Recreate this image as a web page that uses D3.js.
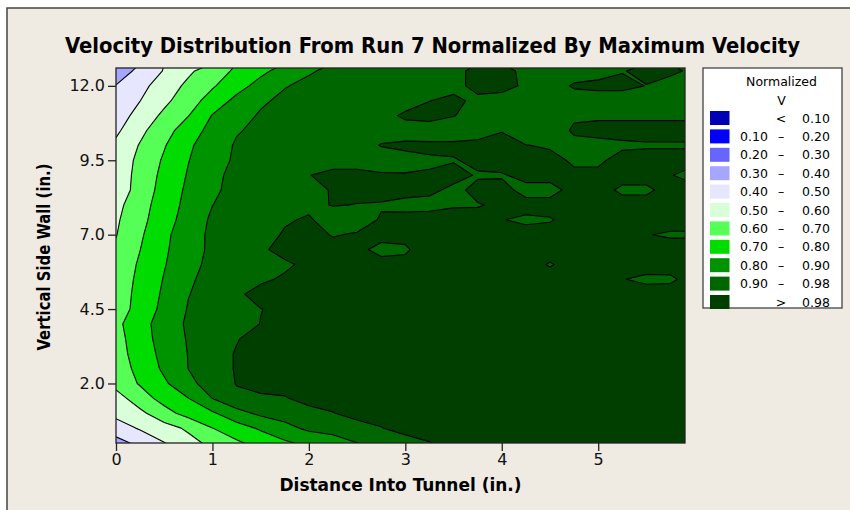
<!DOCTYPE html>
<html><head><meta charset="utf-8">
<script src="https://cdn.jsdelivr.net/npm/d3@7"></script>
<style>body{margin:0;background:#fff}svg{display:block}</style>
</head><body>
<svg id="chart" width="850" height="510"></svg>
<script>
const title = "Velocity Distribution From Run 7 Normalized By Maximum Velocity";
const xLabel = "Distance Into Tunnel (in.)";
const yLabel = "Vertical Side Wall (in.)";
const xTicks = [0, 1, 2, 3, 4, 5];
const yTicks = [2.0, 4.5, 7.0, 9.5, 12.0];

// grid sample positions (inches)
const xSamples = [0, 0.25, 0.5, 0.75, 1, 1.25, 1.5, 1.75, 2, 2.25, 2.5, 2.75, 3, 3.25, 3.5, 3.75, 4, 4.25, 4.5, 4.75, 5, 5.25, 5.5, 5.75, 6];
const ySamples = [12.5, 12, 11.5, 11, 10.5, 10, 9.5, 9, 8.5, 8, 7.5, 7, 6.5, 6, 5.5, 5, 4.5, 4, 3.5, 3, 2.5, 2, 1.5, 1, 0.5, 0];

// normalized velocity, one row per ySample (top to bottom), one column per xSample
const velocity = [
 [0.345,0.426,0.506,0.582,0.651,0.717,0.778,0.836,0.891,0.92,0.935,0.945,0.95,0.95,0.96,1.0,1.0,0.965,0.955,0.96,0.965,0.978,0.99,0.99,0.97],
 [0.404,0.471,0.547,0.622,0.689,0.764,0.833,0.895,0.92,0.935,0.945,0.95,0.95,0.955,0.96,1.0,1.0,0.97,0.96,0.985,0.99,0.99,0.979,0.96,0.955],
 [0.42,0.499,0.578,0.655,0.742,0.826,0.886,0.92,0.935,0.945,0.95,0.95,0.955,0.979,0.995,0.965,0.955,0.955,0.96,0.96,0.96,0.96,0.96,0.96,0.96],
 [0.449,0.537,0.621,0.697,0.805,0.863,0.91,0.93,0.94,0.95,0.95,0.96,0.99,1.0,0.982,0.96,0.955,0.955,0.96,0.975,0.975,0.975,0.975,0.975,0.975],
 [0.481,0.577,0.661,0.752,0.832,0.893,0.92,0.935,0.945,0.95,0.95,0.96,0.955,0.95,0.95,0.955,0.978,0.96,0.96,0.985,0.99,0.99,0.99,0.99,0.99],
 [0.521,0.607,0.693,0.785,0.851,0.91,0.93,0.94,0.945,0.95,0.955,0.983,0.99,0.99,0.99,0.995,0.995,0.981,0.976,0.97,0.97,0.975,0.977,0.977,0.977],
 [0.536,0.625,0.713,0.797,0.86,0.915,0.93,0.94,0.945,0.95,0.95,0.948,0.963,0.974,0.977,0.99,0.995,0.99,0.99,0.975,0.975,0.99,0.99,0.99,0.99],
 [0.538,0.635,0.727,0.808,0.874,0.93,0.945,0.96,0.978,1.0,1.0,0.987,0.983,0.984,0.995,0.976,0.977,0.99,0.99,0.986,0.986,0.99,0.99,0.982,0.965],
 [0.538,0.642,0.738,0.819,0.886,0.925,0.94,0.95,0.96,0.985,0.99,0.99,0.99,0.99,0.97,0.99,0.99,0.97,0.97,0.99,0.99,0.975,0.975,0.99,0.99],
 [0.571,0.661,0.748,0.829,0.899,0.93,0.945,0.95,0.97,0.982,0.979,0.9775,0.971,0.965,0.975,0.978,0.985,0.99,0.99,0.99,0.99,0.99,0.99,0.99,0.99],
 [0.586,0.672,0.759,0.842,0.915,0.94,0.95,0.975,0.985,0.96,0.965,0.983,0.99,1.0,1.0,0.99,0.981,0.975,0.978,0.99,0.99,0.99,0.99,0.99,0.99],
 [0.596,0.686,0.778,0.856,0.92,0.94,0.96,0.985,0.99,0.978,0.983,0.99,0.99,0.99,0.99,0.99,0.99,0.99,0.99,0.99,0.99,0.99,0.981,0.977,0.977],
 [0.614,0.699,0.786,0.858,0.92,0.945,0.97,1.0,0.99,0.99,0.988,0.971,0.975,1.0,0.99,0.99,0.99,0.99,0.99,0.99,0.99,0.99,0.99,0.99,0.99],
 [0.632,0.713,0.794,0.87,0.925,0.945,0.955,0.97,0.994,0.99,0.99,0.99,0.99,0.99,0.99,0.99,0.99,0.99,0.978,0.99,0.99,0.99,0.99,0.99,0.99],
 [0.64,0.723,0.806,0.887,0.93,0.95,0.97,0.988,0.99,0.99,0.99,0.99,0.99,0.99,0.99,0.99,0.99,0.99,0.99,0.99,0.99,0.981,0.975,0.976,0.99],
 [0.645,0.731,0.816,0.897,0.935,0.97,1.0,0.99,0.99,0.99,0.99,0.99,0.99,0.99,0.99,0.99,0.99,0.99,0.99,0.99,0.99,0.99,0.99,0.99,0.99],
 [0.646,0.739,0.827,0.906,0.94,0.96,0.979,0.99,0.99,0.99,0.99,0.99,0.99,0.99,0.99,0.99,0.99,0.99,0.99,0.99,0.99,0.99,0.99,0.99,0.99],
 [0.675,0.764,0.844,0.915,0.945,0.96,0.981,0.99,0.99,0.99,0.99,0.99,0.99,0.99,0.99,0.99,0.99,0.99,0.99,0.99,0.99,0.99,0.99,0.99,0.99],
 [0.662,0.758,0.839,0.908,0.945,0.977,0.999,0.99,0.99,0.99,0.99,0.99,0.99,0.99,0.99,0.99,0.99,0.99,0.99,0.99,0.99,0.99,0.99,0.99,0.99],
 [0.657,0.746,0.829,0.903,0.955,0.984,0.99,0.99,0.99,0.99,0.99,0.99,0.99,0.99,0.99,0.99,0.99,0.99,0.99,0.99,0.99,0.99,0.99,0.99,0.99],
 [0.645,0.731,0.817,0.901,0.955,0.984,0.99,0.99,0.99,0.99,0.99,0.99,0.99,0.99,0.99,0.99,0.99,0.99,0.99,0.99,0.99,0.99,0.99,0.99,0.99],
 [0.633,0.709,0.785,0.871,0.95,0.982,0.99,0.99,0.99,0.99,0.99,0.99,0.99,0.99,0.99,0.99,0.99,0.99,0.99,0.99,0.99,0.99,0.99,0.99,0.99],
 [0.556,0.656,0.735,0.798,0.901,0.97,0.975,0.978,0.99,0.99,0.99,0.99,0.99,0.99,0.99,0.99,0.99,0.99,0.99,0.99,0.99,0.99,0.99,0.99,0.99],
 [0.525,0.576,0.665,0.736,0.786,0.867,0.92,0.94,0.97,0.979,0.99,0.99,0.99,0.99,0.99,0.99,0.99,0.99,0.99,0.99,0.99,0.99,0.99,0.99,0.99],
 [0.456,0.51,0.56,0.617,0.699,0.757,0.814,0.872,0.92,0.93,0.968,0.979,0.99,0.99,0.99,0.99,0.99,0.99,0.99,0.99,0.99,0.99,0.99,0.99,0.99],
 [0.36,0.429,0.497,0.565,0.627,0.684,0.735,0.784,0.825,0.862,0.899,0.93,0.968,0.979,0.99,0.99,0.99,0.99,0.99,0.99,0.99,0.99,0.99,0.99,0.99]
];

const levels = [0.1, 0.2, 0.3, 0.4, 0.5, 0.6, 0.7, 0.8, 0.9, 0.98];
const bandColors = ["#0000B4", "#0000FF", "#6666FF", "#A6A6FF", "#E6E6FF", "#D8FFD8", "#55FF55", "#00DC00", "#009300", "#006600", "#003F00"];
const legendLow  = ["", "0.10", "0.20", "0.30", "0.40", "0.50", "0.60", "0.70", "0.80", "0.90", ""];
const legendSep  = ["<", "\u2013", "\u2013", "\u2013", "\u2013", "\u2013", "\u2013", "\u2013", "\u2013", "\u2013", ">"];
const legendHigh = ["0.10", "0.20", "0.30", "0.40", "0.50", "0.60", "0.70", "0.80", "0.90", "0.98", "0.98"];

const svg = d3.select("#chart");
const font = "'DejaVu Sans', Verdana, sans-serif";
const fontC = "'DejaVu Sans Condensed', 'DejaVu Sans', sans-serif";

// frame
svg.append("rect").attr("x", 7).attr("y", 8).attr("width", 900).attr("height", 600)
  .attr("fill", "#EFEBE2").attr("stroke", "#444").attr("stroke-width", 1.5);

const plot = {l: 116, r: 685, t: 68, b: 443};
const x = d3.scaleLinear().domain([0, 5.9]).range([plot.l, plot.r]);
const y = d3.scaleLinear().domain([0, 12.6]).range([plot.b, plot.t]);

const nx = xSamples.length, ny = ySamples.length;
const gx = d3.scaleLinear().domain([0.5, nx - 0.5]).range([xSamples[0], xSamples[nx - 1]]);
const gy = d3.scaleLinear().domain([0.5, ny - 0.5]).range([ySamples[0], ySamples[ny - 1]]);
const proj = d3.geoTransform({point(px, py) { this.stream.point(x(gx(px)), y(gy(py))); }});
const path = d3.geoPath(proj);

const contours = d3.contours().size([nx, ny]).thresholds(levels)(velocity.flat());

svg.append("clipPath").attr("id", "clip").append("rect")
  .attr("x", plot.l).attr("y", plot.t).attr("width", plot.r - plot.l).attr("height", plot.b - plot.t);

const g = svg.append("g").attr("clip-path", "url(#clip)");
g.append("rect").attr("x", plot.l).attr("y", plot.t).attr("width", plot.r - plot.l).attr("height", plot.b - plot.t)
  .attr("fill", bandColors[0]);
g.selectAll("path.fill").data(contours).join("path").attr("class", "fill")
  .attr("d", path).attr("fill", (d, i) => bandColors[i + 1]).attr("stroke", "none");
g.selectAll("path.line").data(contours).join("path").attr("class", "line")
  .attr("d", path).attr("fill", "none").attr("stroke", "#000").attr("stroke-width", 1.1)
  .attr("stroke-linejoin", "round");

svg.append("rect").attr("x", plot.l).attr("y", plot.t).attr("width", plot.r - plot.l).attr("height", plot.b - plot.t)
  .attr("fill", "none").attr("stroke", "#222").attr("stroke-width", 1.3);

// axes
const ax = svg.append("g").attr("transform", `translate(0,${plot.b})`)
  .call(d3.axisBottom(x).tickValues(xTicks).tickSize(8).tickPadding(3).tickFormat(d3.format("d")));
const ay = svg.append("g").attr("transform", `translate(${plot.l},0)`)
  .call(d3.axisLeft(y).tickValues(yTicks).tickSize(8).tickPadding(3).tickFormat(d3.format(".1f")));
[ax, ay].forEach(a => {
  a.select(".domain").remove();
  a.selectAll(".tick line").attr("stroke", "#222").attr("stroke-width", 1.3);
  a.selectAll(".tick text").attr("fill", "#111").style("font-family", font).style("font-size", "16px");
});

// titles
svg.append("text").attr("x", 432.5).attr("y", 53).attr("text-anchor", "middle")
  .attr("textLength", 735).attr("lengthAdjust", "spacingAndGlyphs")
  .style("font-family", fontC).style("font-weight", "bold").style("font-size", "21px").attr("fill", "#000")
  .text(title);
svg.append("text").attr("x", 400.5).attr("y", 491).attr("text-anchor", "middle")
  .attr("textLength", 242).attr("lengthAdjust", "spacingAndGlyphs")
  .style("font-family", fontC).style("font-weight", "bold").style("font-size", "18px").attr("fill", "#000")
  .text(xLabel);
svg.append("text").attr("transform", "translate(50,257) rotate(-90)").attr("text-anchor", "middle")
  .attr("textLength", 187).attr("lengthAdjust", "spacingAndGlyphs")
  .style("font-family", fontC).style("font-weight", "bold").style("font-size", "18px").attr("fill", "#000")
  .text(yLabel);

// legend
const lg = svg.append("g");
lg.append("rect").attr("x", 703).attr("y", 68).attr("width", 139).attr("height", 240)
  .attr("fill", "#fff").attr("stroke", "#444").attr("stroke-width", 1.3);
lg.append("text").attr("x", 781.5).attr("y", 86).attr("text-anchor", "middle")
  .style("font-family", font).style("font-size", "12.5px").text("Normalized");
lg.append("text").attr("x", 781.5).attr("y", 104.5).attr("text-anchor", "middle")
  .style("font-family", font).style("font-size", "12.5px").text("V");
const rows = lg.selectAll("g.row").data(bandColors).join("g").attr("class", "row")
  .attr("transform", (d, i) => `translate(0,${111 + i * 18.4})`);
rows.append("rect").attr("x", 710).attr("y", 0).attr("width", 19.5).attr("height", 14).attr("fill", d => d);
rows.append("text").attr("x", 740).attr("y", 11.5).style("font-family", font).style("font-size", "12.5px")
  .text((d, i) => legendLow[i]);
rows.append("text").attr("x", 781).attr("y", 11.5).attr("text-anchor", "middle").style("font-family", font).style("font-size", "12.5px")
  .text((d, i) => legendSep[i]);
rows.append("text").attr("x", 802).attr("y", 11.5).style("font-family", font).style("font-size", "12.5px")
  .text((d, i) => legendHigh[i]);
</script>
</body></html>
